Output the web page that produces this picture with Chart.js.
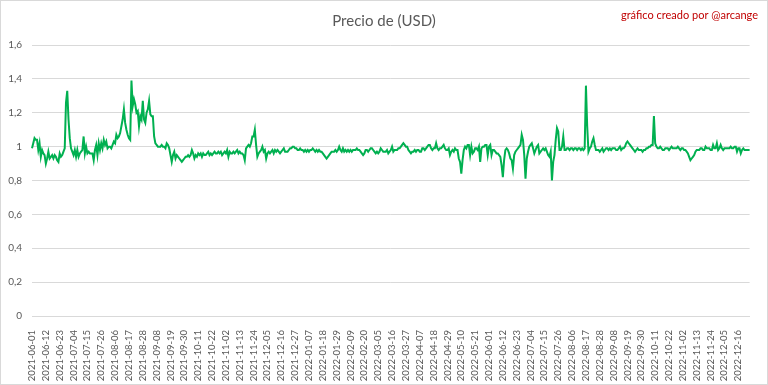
<!DOCTYPE html>
<html lang="es">
<head>
<meta charset="UTF-8">
<title>Precio de (USD)</title>
<script src="https://cdn.jsdelivr.net/npm/chart.js"></script>
<style>
  html, body { margin: 0; padding: 0; background: #fff; }
  #wrap { position: relative; width: 766px; height: 383px; border: 1px solid #d9d9d9; }
</style>
</head>
<body>
<div id="wrap"><canvas id="priceChart" width="766" height="383"></canvas></div>
<script>
// daily dates, two days missing in the source data at the end of Feb 2022
const startDate = '2021-06-01';
const dayCount = 571;
const missingDays = ['2022-02-27', '2022-02-28'];
const labelStep = 11;

const dates = [];
let d = new Date(startDate + 'T00:00:00Z');
while (dates.length < dayCount) {
    const s = d.toISOString().slice(0, 10);
    if (!missingDays.includes(s)) dates.push(s);
    d.setUTCDate(d.getUTCDate() + 1);
}

// price in USD
const prices = [
    0.99, 1.02, 1.05, 1.04, 1.04, 0.98, 1.02, 0.94, 0.98, 0.96,
    0.95, 0.90, 0.93, 0.97, 0.93, 0.94, 0.95, 0.93, 0.95, 0.94,
    0.92, 0.91, 0.96, 0.94, 0.95, 0.97, 0.99, 1.26, 1.33, 1.16,
    1.05, 0.99, 0.97, 0.95, 0.98, 0.94, 0.98, 0.94, 0.96, 0.97,
    0.98, 1.06, 0.96, 1.00, 0.96, 0.97, 0.96, 0.96, 0.96, 0.92,
    0.98, 1.01, 0.95, 1.02, 0.98, 1.02, 0.99, 1.04, 1.01, 1.03,
    0.99, 1.00, 1.00, 0.99, 1.01, 1.03, 1.02, 1.07, 1.05, 1.06,
    1.08, 1.12, 1.16, 1.22, 1.14, 1.10, 1.07, 1.05, 1.04, 1.39,
    1.24, 1.28, 1.25, 1.20, 1.21, 1.12, 1.18, 1.16, 1.27, 1.16,
    1.14, 1.20, 1.22, 1.27, 1.19, 1.18, 1.18, 1.06, 1.02, 1.01,
    1.00, 1.00, 1.00, 1.01, 1.00, 1.00, 0.99, 1.02, 1.01, 0.99,
    0.95, 0.91, 0.95, 0.97, 0.93, 0.95, 0.94, 0.93, 0.92, 0.91,
    0.92, 0.93, 0.94, 0.94, 0.95, 0.94, 0.95, 0.98, 0.96, 0.93,
    0.95, 0.94, 0.96, 0.95, 0.96, 0.94, 0.96, 0.95, 0.95, 0.96,
    0.97, 0.95, 0.96, 0.95, 0.96, 0.97, 0.96, 0.96, 0.97, 0.96,
    0.97, 0.95, 0.96, 0.97, 0.96, 0.98, 0.94, 0.97, 0.96, 0.96,
    0.97, 0.96, 0.97, 0.98, 0.96, 0.97, 0.96, 0.96, 0.95, 0.92,
    0.99, 1.00, 1.01, 1.00, 1.02, 1.06, 1.06, 1.10, 1.01, 0.94,
    0.96, 0.97, 0.98, 1.00, 0.97, 0.98, 0.93, 0.96, 0.97, 0.96,
    0.97, 0.98, 0.96, 0.98, 0.97, 0.98, 0.97, 0.96, 0.97, 0.98,
    0.99, 0.97, 0.97, 0.97, 0.98, 0.99, 0.99, 1.00, 1.00, 0.99,
    0.99, 0.98, 0.98, 0.99, 0.98, 0.98, 0.97, 0.98, 0.97, 0.98,
    0.97, 0.98, 0.98, 0.99, 0.98, 0.97, 0.98, 0.97, 0.98, 0.97,
    0.97, 0.96, 0.95, 0.94, 0.93, 0.94, 0.95, 0.96, 0.97, 0.97,
    0.97, 0.98, 0.97, 0.98, 1.00, 0.98, 0.97, 0.99, 0.97, 0.98,
    0.97, 0.98, 0.97, 0.98, 0.97, 0.98, 0.98, 0.98, 0.99, 0.98,
    0.98, 0.97, 0.96, 0.95, 0.96, 0.98, 0.98, 0.97, 0.98, 0.99,
    0.99, 0.98, 0.97, 0.96, 0.97, 0.96, 0.97, 0.99, 0.98, 0.97,
    0.97, 0.97, 0.98, 0.96, 0.97, 0.98, 1.00, 0.97, 0.98, 0.98,
    0.98, 0.99, 0.99, 1.00, 1.01, 1.02, 1.01, 1.00, 1.00, 0.98,
    0.97, 0.96, 0.97, 0.97, 0.98, 0.97, 0.98, 0.98, 0.97, 0.97,
    0.99, 0.99, 0.98, 0.99, 1.00, 1.01, 1.01, 0.99, 0.98, 0.99,
    0.99, 1.02, 0.99, 0.98, 0.99, 0.99, 1.00, 1.01, 0.99, 0.98,
    0.98, 0.99, 0.95, 0.97, 0.98, 0.97, 0.99, 0.98, 0.98, 0.93,
    0.91, 0.84, 0.92, 0.98, 1.00, 0.99, 1.01, 1.01, 0.95, 1.00,
    0.96, 0.97, 0.99, 0.99, 0.98, 1.00, 0.91, 0.99, 1.00, 1.00,
    1.01, 1.01, 0.95, 1.00, 1.01, 0.95, 0.98, 0.98, 0.97, 0.96,
    0.96, 0.95, 0.94, 0.89, 0.82, 0.92, 0.98, 0.99, 0.98, 0.96,
    0.93, 0.92, 0.87, 0.95, 0.97, 0.98, 0.99, 1.00, 1.01, 1.07,
    1.04, 0.95, 0.81, 0.93, 0.97, 1.00, 1.01, 1.02, 0.99, 0.96,
    0.98, 1.00, 1.01, 0.96, 0.97, 0.98, 0.99, 0.98, 0.99, 0.97,
    0.95, 0.94, 0.97, 0.80, 0.91, 0.95, 1.04, 1.11, 1.09, 0.98,
    0.98, 1.00, 1.06, 0.98, 0.98, 0.99, 0.99, 0.98, 0.99, 0.99,
    0.98, 0.99, 0.99, 0.98, 0.99, 0.99, 0.98, 0.99, 0.98, 0.99,
    1.36, 1.12, 0.97, 0.99, 1.00, 1.03, 1.05, 1.01, 0.98, 0.98,
    0.98, 0.97, 0.98, 0.99, 0.97, 0.98, 0.99, 0.99, 0.98, 0.99,
    0.98, 0.99, 0.99, 0.99, 0.98, 0.98, 0.99, 1.00, 0.98, 0.99,
    0.99, 1.00, 1.02, 1.03, 1.02, 1.01, 1.00, 0.99, 0.98, 0.97,
    0.98, 0.99, 0.98, 0.98, 0.98, 0.97, 0.98, 0.98, 0.99, 0.99,
    1.00, 1.00, 1.01, 1.01, 1.18, 1.02, 1.00, 0.99, 0.99, 1.00,
    0.99, 0.98, 0.98, 0.99, 0.99, 0.99, 0.98, 0.99, 1.00, 0.99,
    0.99, 0.99, 0.99, 1.00, 0.99, 0.98, 0.99, 0.99, 0.98, 0.98,
    0.97, 0.96, 0.94, 0.92, 0.93, 0.94, 0.95, 0.97, 0.98, 0.98,
    0.98, 0.99, 0.99, 0.98, 0.98, 1.00, 0.99, 0.99, 0.99, 0.98,
    0.98, 1.01, 0.99, 0.99, 1.02, 0.98, 0.99, 1.01, 0.99, 0.98,
    0.99, 0.99, 0.99, 0.99, 0.99, 1.00, 0.99, 0.99, 1.00, 1.00,
    0.97, 0.99, 0.99, 0.96, 0.98, 0.99, 0.98, 0.98, 0.98, 0.98, 0.98
];

const yTicks = [0, 0.2, 0.4, 0.6, 0.8, 1, 1.2, 1.4, 1.6];
const titleText = 'Precio de (USD)';
const creditText = 'gráfico creado por @arcange';

// titles drawn straight on the canvas so they sit where Excel put them
const headerPlugin = {
    id: 'header',
    afterDraw(chart) {
        const c = chart.ctx;
        c.save();
        c.textBaseline = 'middle';
        c.fillStyle = '#595959';
        c.font = '15px Lato';
        c.textAlign = 'center';
        c.fillText(titleText, 383, 20);
        c.fillStyle = '#c00000';
        c.font = '11px Lato';
        c.textAlign = 'right';
        c.fillText(creditText, 757, 14);
        c.restore();
    }
};

new Chart(document.getElementById('priceChart'), {
    type: 'line',
    data: {
        labels: dates,
        datasets: [{
            label: titleText,
            data: prices,
            borderColor: '#00b050',
            borderWidth: 2,
            pointRadius: 0,
            tension: 0
        }]
    },
    options: {
        responsive: false,
        animation: false,
        layout: { padding: { top: 44, right: 13, left: 0, bottom: 0 } },
        plugins: {
            legend: { display: false },
            tooltip: { enabled: false }
        },
        scales: {
            x: {
                afterFit: (s) => { s.height = 68; },
                grid: { display: false },
                border: { color: '#d9d9d9' },
                ticks: {
                    autoSkip: false,
                    maxRotation: 90,
                    minRotation: 90,
                    padding: 6,
                    color: '#595959',
                    font: { family: 'Lato', size: 9.5 },
                    callback: (v, i) => i % labelStep === 0 ? dates[i] : ''
                }
            },
            y: {
                min: 0,
                max: 1.6,
                afterFit: (s) => { s.width = 31; },
                afterBuildTicks: (s) => { s.ticks = yTicks.map(v => ({ value: v })); },
                grid: { color: '#d9d9d9', drawTicks: false },
                border: { display: false },
                ticks: {
                    padding: 10,
                    color: '#595959',
                    font: { family: 'Lato', size: 10 },
                    callback: (v) => String(Math.round(v * 10) / 10).replace('.', ',')
                }
            }
        }
    },
    plugins: [headerPlugin]
});
</script>
</body>
</html>
